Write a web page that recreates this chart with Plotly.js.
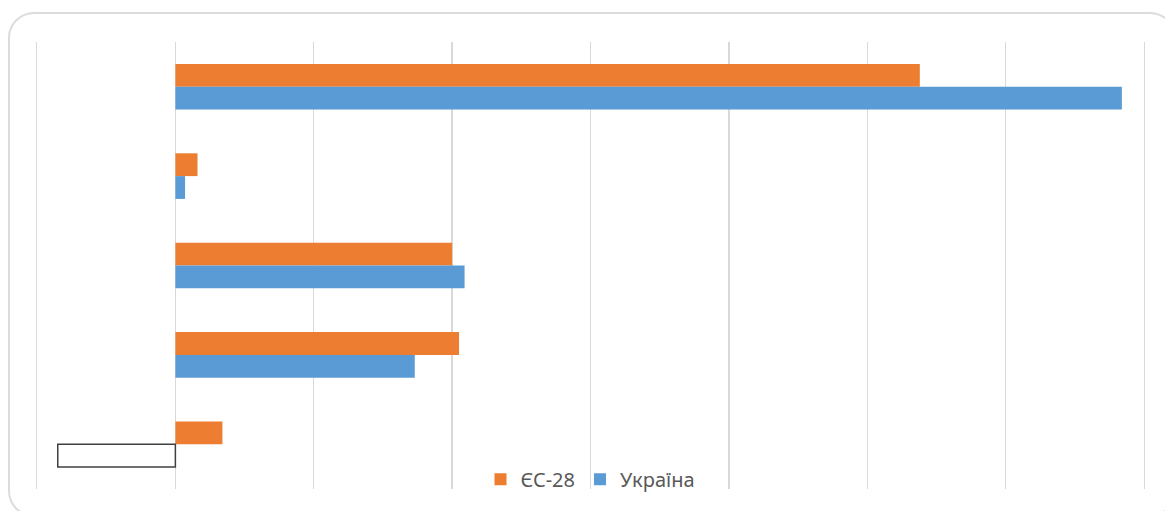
<!DOCTYPE html>
<html>
<head>
<meta charset="utf-8">
<script src="https://cdn.plot.ly/plotly-3.0.1.min.js"></script>
<style>
  html, body { margin: 0; padding: 0; width: 1165px; height: 511px; overflow: hidden; background: #fff; }
  #frame { position: absolute; left: 8px; top: 12px; width: 1168px; height: 505px; border: 2px solid #dcdcdc; border-radius: 26px; box-sizing: border-box; }
  #chart { position: absolute; left: 0; top: 0; width: 1165px; height: 511px; }
</style>
</head>
<body>
<div id="frame"></div>
<div id="chart"></div>
<script>
// Categories (labels not shown in the reference)
const categories = ["Категорія 1", "Категорія 2", "Категорія 3", "Категорія 4", "Категорія 5"];
const seriesNames = ["ЄС-28", "Україна"];
const valuesEU = [5.38, 0.16, 2.00, 2.05, 0.34];
const valuesUA = [6.84, 0.07, 2.09, 1.73, -0.85];

const orange = "#ED7D31";
const blue = "#5B9BD5";

const uaFill = valuesUA.map(v => v < 0 ? "#ffffff" : blue);
const uaLineColor = valuesUA.map(v => v < 0 ? "#404040" : blue);
const uaLineWidth = valuesUA.map(v => v < 0 ? 1.5 : 0);

const traces = [
  {
    type: "bar", orientation: "h", name: seriesNames[0],
    y: categories, x: valuesEU,
    marker: { color: orange, line: { width: 0 } },
    hoverinfo: "x+name"
  },
  {
    type: "bar", orientation: "h", name: seriesNames[1],
    y: categories, x: valuesUA,
    marker: { color: uaFill, line: { color: uaLineColor, width: uaLineWidth } },
    hoverinfo: "x+name"
  }
];

const layout = {
  width: 1165, height: 511,
  margin: { l: 37, r: 21, t: 42, b: 22, pad: 0 },
  paper_bgcolor: "rgba(0,0,0,0)",
  plot_bgcolor: "rgba(0,0,0,0)",
  barmode: "group",
  bargap: 0.49,
  bargroupgap: 0,
  showlegend: true,
  legend: {
    orientation: "h",
    x: 0.5, xanchor: "center",
    y: 0.022, yanchor: "middle",
    bgcolor: "rgba(0,0,0,0)",
    font: { family: "Noto Sans, Liberation Sans, sans-serif", size: 20, color: "#595959" },
    itemwidth: 30,
    traceorder: "normal"
  },
  xaxis: {
    range: [-1, 7],
    dtick: 1, tick0: 0,
    showgrid: true, gridcolor: "#d9d9d9", gridwidth: 1.3,
    zeroline: false,
    showticklabels: false,
    ticks: "",
    showline: false,
    fixedrange: true
  },
  yaxis: {
    type: "category",
    autorange: "reversed",
    showgrid: false,
    zeroline: false,
    showticklabels: false,
    ticks: "",
    showline: true, mirror: true,
    linecolor: "#d9d9d9", linewidth: 1.3,
    fixedrange: true
  }
};

Plotly.newPlot("chart", traces, layout, { displayModeBar: false, staticPlot: true });
</script>
</body>
</html>
